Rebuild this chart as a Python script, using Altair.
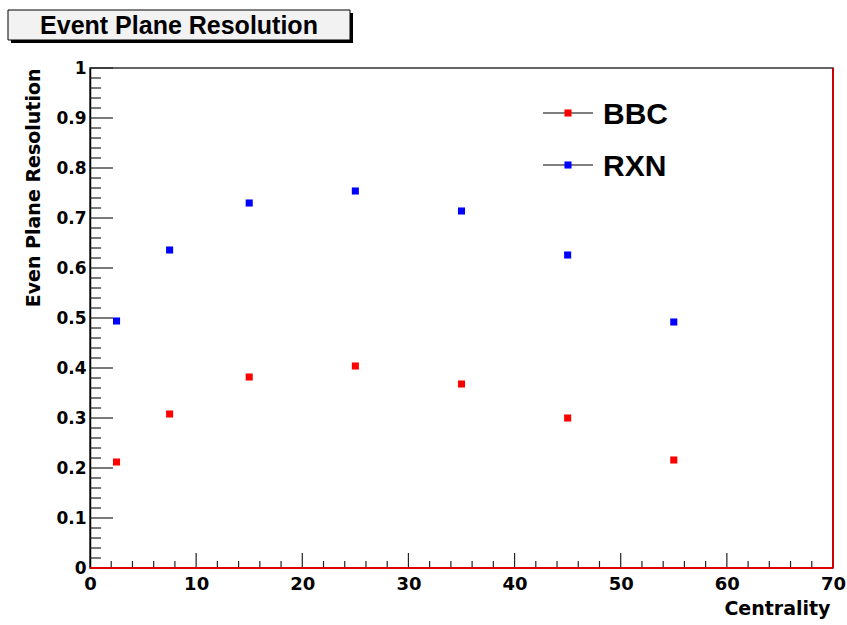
import altair as alt
import pandas as pd

# ---- data ----
centrality = [2.5, 7.5, 15, 25, 35, 45, 55]
bbc = [0.212, 0.308, 0.382, 0.404, 0.368, 0.300, 0.216]
rxn = [0.494, 0.636, 0.730, 0.754, 0.714, 0.626, 0.492]
series_names = ["BBC", "RXN"]
series_colors = ["#ff0000", "#0000ff"]

x_major = [0, 10, 20, 30, 40, 50, 60, 70]
x_minor = [v for v in range(0, 71, 2) if v % 10 != 0]
y_major = [0, 0.1, 0.2, 0.3, 0.4, 0.5, 0.6, 0.7, 0.8, 0.9, 1.0]
y_minor = [round(v * 0.02, 2) for v in range(0, 51) if v % 5 != 0]

title_text = "Event Plane Resolution"
x_title = "Centrality"
y_title = "Even Plane Resolution"

W, H = 743, 500
LAB_FONT = "DejaVu Sans"

rows = []
for c, b, r in zip(centrality, bbc, rxn):
    rows.append({"centrality": c, "value": b, "series": "BBC"})
    rows.append({"centrality": c, "value": r, "series": "RXN"})
df = pd.DataFrame(rows)

xscale = alt.Scale(domain=[0, 70], nice=False, zero=False)
yscale = alt.Scale(domain=[0, 1], nice=False, zero=False)

xaxis = alt.Axis(values=x_major, format="d", grid=False, ticks=False, tickSize=0, domain=False,
                 labelFont=LAB_FONT, labelFontWeight="bold", labelFontSize=18, labelColor="#000",
                 labelPadding=7, labelOverlap=False, labelFlush=False,
                 title=x_title, titleFont=LAB_FONT, titleFontWeight="bold", titleFontSize=19,
                 titleColor="#000", titleAnchor="end", titleAlign="right", titleX=W - 3, titleY=46,
                 titleBaseline="alphabetic")
yaxis = alt.Axis(values=y_major, grid=False, ticks=False, tickSize=0, domain=True, domainColor="#000",
                 domainWidth=1.5,
                 labelExpr="datum.value == 0 ? '0' : datum.value == 1 ? '1' : format(datum.value, '.1f')",
                 labelFont=LAB_FONT, labelFontWeight="bold", labelFontSize=17, labelColor="#000",
                 labelPadding=4, labelOverlap=False, labelFlush=False,
                 title=y_title, titleFont=LAB_FONT, titleFontWeight="bold", titleFontSize=19,
                 titleColor="#000", titleAngle=270, titleAlign="right", titleAnchor="end",
                 titleX=-51, titleY=0, titleBaseline="alphabetic")

points = alt.Chart(df).mark_point(shape="square", filled=True, size=50, opacity=1).encode(
    x=alt.X("centrality:Q", scale=xscale, axis=xaxis),
    y=alt.Y("value:Q", scale=yscale, axis=yaxis),
    color=alt.Color("series:N", scale=alt.Scale(domain=series_names, range=series_colors), legend=None),
)

ymaj = alt.Chart(pd.DataFrame({"v": y_major})).mark_rule(color="#222", strokeWidth=1.2).encode(
    y=alt.Y("v:Q", scale=yscale), x=alt.value(0), x2=alt.value(23))
ymin = alt.Chart(pd.DataFrame({"v": y_minor})).mark_rule(color="#222", strokeWidth=1.2).encode(
    y=alt.Y("v:Q", scale=yscale), x=alt.value(0), x2=alt.value(11))
xmaj = alt.Chart(pd.DataFrame({"v": x_major[1:-1]})).mark_rule(color="#222", strokeWidth=1.2).encode(
    x=alt.X("v:Q", scale=xscale), y=alt.value(H), y2=alt.value(H - 15))
xmin = alt.Chart(pd.DataFrame({"v": x_minor})).mark_rule(color="#222", strokeWidth=1.2).encode(
    x=alt.X("v:Q", scale=xscale), y=alt.value(H), y2=alt.value(H - 7))

# red frame lines at bottom and right
red_bottom = alt.Chart(pd.DataFrame({"v": [0]})).mark_rule(color="#e00000", strokeWidth=2).encode(
    y=alt.Y("v:Q", scale=yscale), x=alt.value(0), x2=alt.value(W))
red_right = alt.Chart(pd.DataFrame({"v": [70]})).mark_rule(color="#cc0000", strokeWidth=2).encode(
    x=alt.X("v:Q", scale=xscale), y=alt.value(0), y2=alt.value(H))

# title box
tdf = pd.DataFrame({"t": [title_text]})
tshadow = alt.Chart(tdf).mark_rect(color="#000").encode(
    x=alt.value(-79), x2=alt.value(263), y=alt.value(-55), y2=alt.value(-25))
tbox = alt.Chart(tdf).mark_rect(fill="#f2f2f2", stroke="#000", strokeWidth=1).encode(
    x=alt.value(-82), x2=alt.value(260), y=alt.value(-58), y2=alt.value(-28))
ttext = alt.Chart(tdf).mark_text(font="Liberation Sans", fontWeight="bold", fontSize=25,
                                 color="#000", align="center", baseline="middle").encode(
    x=alt.value(89), y=alt.value(-42), text="t:N")

# legend
legend_layers = []
for i, (name, col) in enumerate(zip(series_names, series_colors)):
    ldf = pd.DataFrame({"s": [name]})
    ly = 45 + 52 * i
    legend_layers.append(alt.Chart(ldf).mark_rule(color="#000", strokeWidth=1.2).encode(
        x=alt.value(453), x2=alt.value(503), y=alt.value(ly)))
    legend_layers.append(alt.Chart(ldf).mark_point(shape="square", filled=True, size=50, opacity=1,
                                                   color=col).encode(
        x=alt.value(478), y=alt.value(ly)))
    legend_layers.append(alt.Chart(ldf).mark_text(font="Liberation Sans", fontWeight="bold", fontSize=30,
                                                  color="#000", align="left", baseline="middle").encode(
        x=alt.value(513), y=alt.value(ly + 2), text="s:N"))

chart = alt.layer(ymin, ymaj, xmin, xmaj, red_bottom, red_right, points,
                  tshadow, tbox, ttext, *legend_layers).properties(
    width=W, height=H,
    autosize=alt.AutoSizeParams(type="none"),
    padding={"left": 90, "top": 68, "right": 14, "bottom": 57},
    background="white",
).configure_view(stroke="#333", strokeWidth=1.5)

chart.save("out.html", embed_options={"renderer": "svg", "actions": False})
